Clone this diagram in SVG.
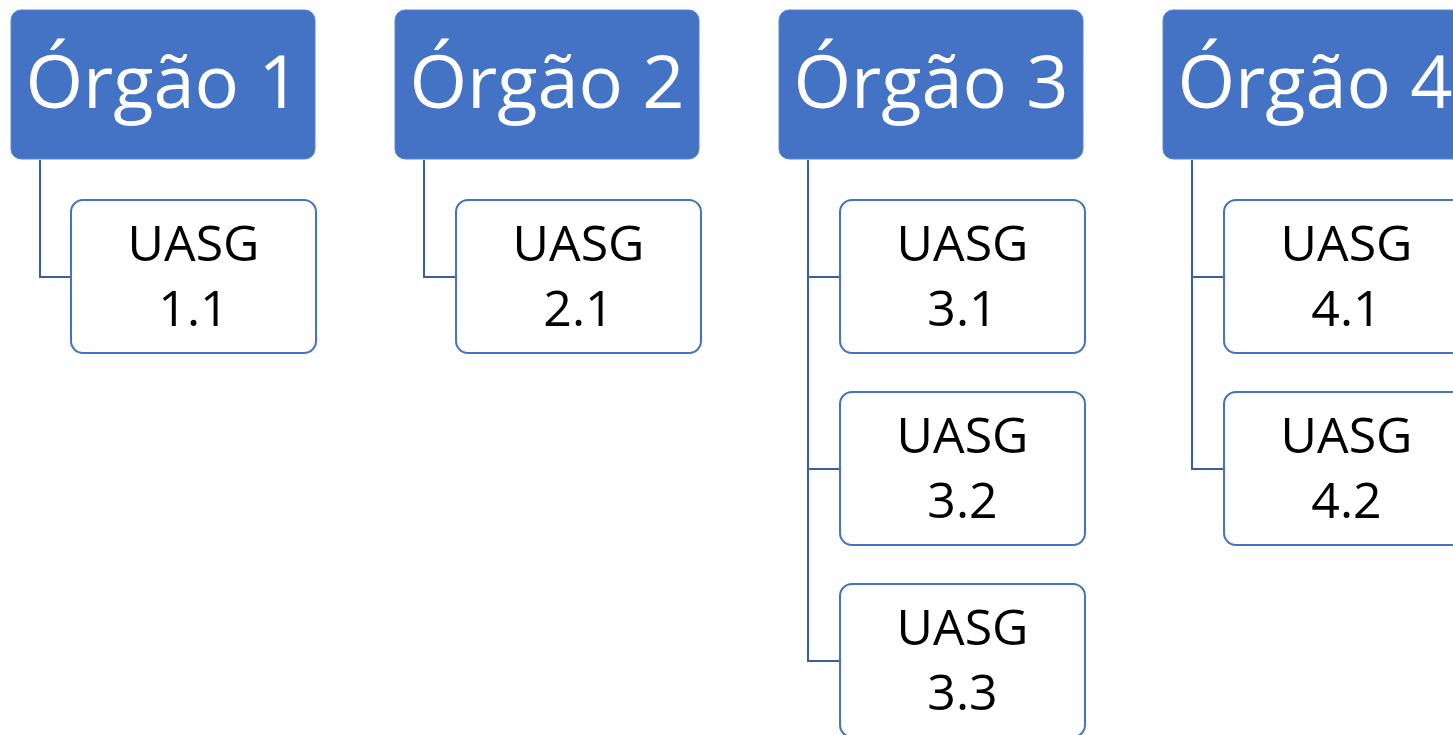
<svg xmlns="http://www.w3.org/2000/svg" width="1453" height="735" viewBox="0 0 1453 735">
<style>
.org rect{fill:#4472C4;stroke:#5B86D0;stroke-width:1}
.org text{fill:#fff;font-family:"Open Sans","Noto Sans",sans-serif;font-size:74px;text-anchor:middle}
.u rect{fill:#fff;stroke:#4472C4;stroke-width:2}
.u text{fill:#000;font-family:"Open Sans","Noto Sans",sans-serif;font-size:50px;text-anchor:middle}
#connectors path{fill:none;stroke:#3A5E9E;stroke-width:2}
</style>
<rect width="1453" height="735" fill="#fff"/>
<g id="connectors">
<path d="M40 160V277H71"/>
<path d="M424 160V277H456"/>
<path d="M808 160V661H840M808 277H840M808 469H840"/>
<path d="M1192 160V469H1224M1192 277H1224"/>
</g>
<g id="org1" class="org"><rect x="11" y="10" width="304" height="149" rx="10"/><text x="163" y="108">Órgão 1</text></g>
<g id="org2" class="org"><rect x="395" y="10" width="304" height="149" rx="10"/><text x="547" y="108">Órgão 2</text></g>
<g id="org3" class="org"><rect x="779" y="10" width="304" height="149" rx="10"/><text x="931" y="108">Órgão 3</text></g>
<g id="org4" class="org"><rect x="1163" y="10" width="304" height="149" rx="10"/><text x="1315" y="108">Órgão 4</text></g>
<g id="u11" class="u"><rect x="71" y="200" width="245" height="153" rx="12"/><text x="193.5" y="261">UASG</text><text x="193.5" y="326">1.1</text></g>
<g id="u21" class="u"><rect x="456" y="200" width="245" height="153" rx="12"/><text x="578.5" y="261">UASG</text><text x="578.5" y="326">2.1</text></g>
<g id="u31" class="u"><rect x="840" y="200" width="245" height="153" rx="12"/><text x="962.5" y="261">UASG</text><text x="962.5" y="326">3.1</text></g>
<g id="u32" class="u"><rect x="840" y="392" width="245" height="153" rx="12"/><text x="962.5" y="453">UASG</text><text x="962.5" y="518">3.2</text></g>
<g id="u33" class="u"><rect x="840" y="584" width="245" height="153" rx="12"/><text x="962.5" y="645">UASG</text><text x="962.5" y="710">3.3</text></g>
<g id="u41" class="u"><rect x="1224" y="200" width="245" height="153" rx="12"/><text x="1346.5" y="261">UASG</text><text x="1346.5" y="326">4.1</text></g>
<g id="u42" class="u"><rect x="1224" y="392" width="245" height="153" rx="12"/><text x="1346.5" y="453">UASG</text><text x="1346.5" y="518">4.2</text></g>
</svg>
